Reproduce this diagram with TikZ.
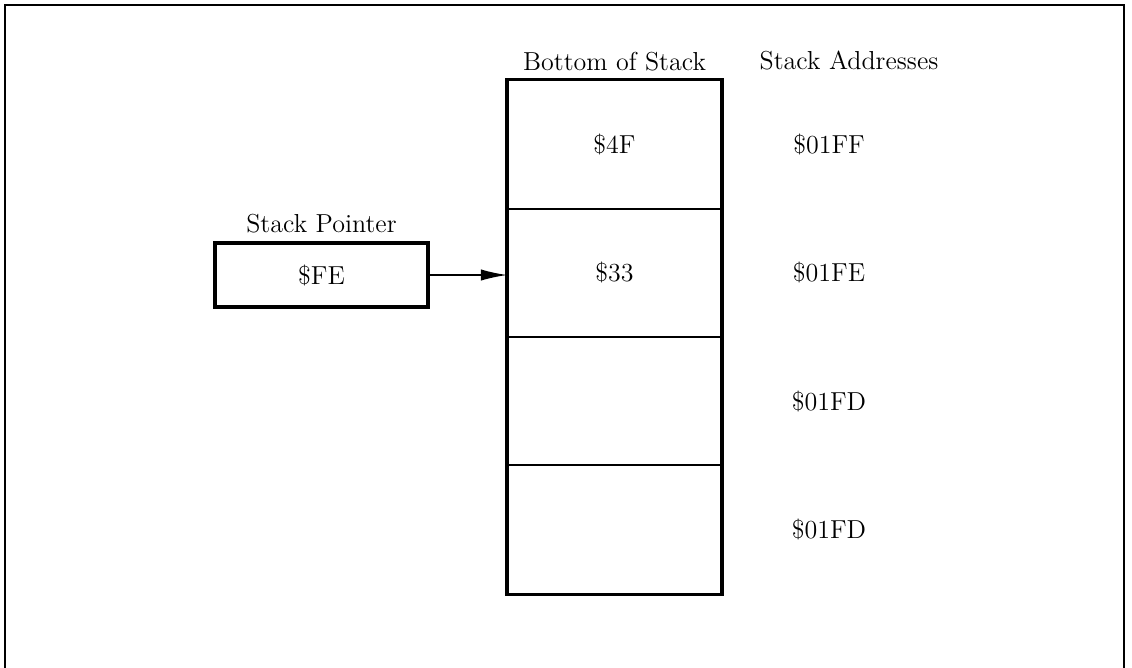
\documentclass[tikz,border=0pt]{standalone}
\usepackage{tikz}
\usetikzlibrary{arrows.meta}
\usetikzlibrary{positioning}

\begin{document}
\begin{tikzpicture}[x=0.02cm, y=-0.02cm,
every node/.style={font=\fontsize{14.8}{17}\selectfont},
cell/.style={draw, line width=1pt, minimum width=4.26cm, minimum height=2.566cm, inner sep=0pt},
ptrbox/.style={draw, line width=1.9pt, minimum width=4.26cm, minimum height=1.28cm, inner sep=0pt}]
\useasboundingbox (0,0) rectangle (1132,667);
\draw[line width=1.3pt] (5,690) -- (5,5) -- (1124,5) -- (1124,690);
% stack cells with their addresses
\foreach \i/\val/\addr in {0/\$4F/\$01FF, 1/\$33/\$01FE, 2//\$01FD, 3//\$01FD}{
\node[cell] (c\i) at (614.5,144.5+128.25*\i){\val};
\node (a\i) at (829,144.5+128.25*\i){\addr};}
\draw[line width=1.9pt] (c0.north west) rectangle (c3.south east);
\node[above=1pt of c0] (bot) {Bottom of Stack};
\node (addr) at (849,60) {Stack Addresses};
\node[ptrbox] (sp) at (321.5,275){\$FE};
\node[above=1pt of sp] (spl) {Stack Pointer};
\draw[-{Latex[length=15pt,width=6.5pt]}, line width=0.9pt] (sp) -- (sp -| c1.west);
\end{tikzpicture}
\end{document}
